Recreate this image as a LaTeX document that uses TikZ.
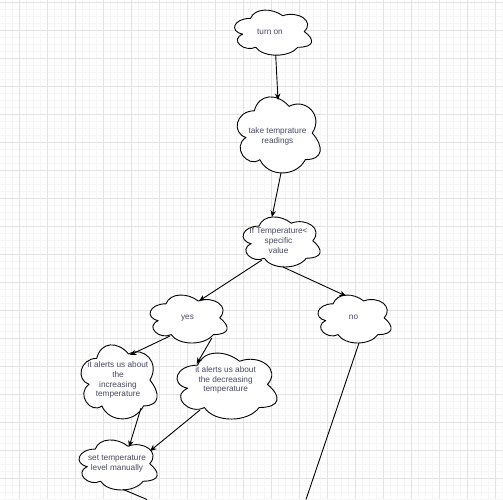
\documentclass[tikz,border=0pt]{standalone}
\usepackage{fontspec}
\setmainfont{Liberation Sans}
\usetikzlibrary{arrows.meta,shapes.geometric}
\definecolor{gridmajor}{RGB}{226,226,226}
\definecolor{gridminor}{RGB}{246,246,246}
\definecolor{txt}{RGB}{72,72,100}
\pgfdeclarelayer{bg}
\pgfdeclarelayer{mid}
\pgfsetlayers{bg,mid,main}
\tikzset{
  cloudanchor/.style={ellipse, draw=none, inner sep=0pt},
  cloudtext/.style={text=txt, font=\fontsize{8.25}{9.9}\selectfont, align=center, inner sep=0pt},
  cloudline/.style={draw=black, fill=white, line width=0.9pt, line join=round},
  arr/.style={draw=black, line width=0.9pt, -{Stealth[length=6.5pt,width=5.5pt]}},
  plainline/.style={draw=black, line width=0.9pt},
}
\newcommand\mycloud[3]{%
  \begin{scope}[x=#2pt,y=-#3pt,shift={(#1.center)}]
    \path[cloudline] (-.25,-.25)
      .. controls (-.45,-.25) and (-.5,0) .. (-.34,.05)
      .. controls (-.5,.16) and (-.32,.4) .. (-.19,.3)
      .. controls (-.1,.5) and (.2,.5) .. (.3,.3)
      .. controls (.5,.3) and (.5,.15) .. (.375,0)
      .. controls (.5,-.2) and (.3,-.4) .. (.125,-.3)
      .. controls (0,-.45) and (-.2,-.45) .. (-.25,-.25) -- cycle;
  \end{scope}}
\begin{document}
\begin{tikzpicture}[x=1pt,y=-1pt]
\useasboundingbox (0,0) rectangle (503,499);
\begin{pgfonlayer}{bg}
  \fill[white] (0,0) rectangle (503,499);
  \foreach \i in {0,...,72} {
    \draw[gridminor, line width=0.6pt] ({5+7*\i},0) -- ({5+7*\i},499);
    \draw[gridminor, line width=0.6pt] (0,{2.3+7*\i}) -- (503,{2.3+7*\i});
  }
  \foreach \i in {0,...,17} {
    \draw[gridmajor, line width=0.8pt] ({19+28*\i},0) -- ({19+28*\i},499);
    \draw[gridmajor, line width=0.8pt] (0,{2.3+28*\i}) -- (503,{2.3+28*\i});
  }
\end{pgfonlayer}

\node[cloudanchor, minimum width=77pt, minimum height=45pt,
  label={[cloudtext, xshift=-2pt]center:turn on}] (on) at (272,31.5) {};
\node[cloudanchor, minimum width=83pt, minimum height=76pt,
  label={[cloudtext, yshift=-3pt]center:take temprature\\readings}] (take) at (277.5,133) {};
\node[cloudanchor, minimum width=77pt, minimum height=50pt,
  label={[cloudtext, xshift=-2pt]center:If Temperature<\\specific\\value}] (if) at (280.5,240.7) {};
\node[cloudanchor, minimum width=77pt, minimum height=48pt,
  label={[cloudtext]center:yes}] (yes) at (187.5,317.8) {};
\node[cloudanchor, minimum width=73pt, minimum height=48pt,
  label={[cloudtext]center:no}] (no) at (353.5,317.8) {};
\node[cloudanchor, minimum width=76pt, minimum height=74pt,
  label={[cloudtext]center:it alerts us about\\the\\increasing\\temperature}] (inc) at (118,380) {};
\node[cloudanchor, minimum width=100pt, minimum height=66pt,
  label={[cloudtext, yshift=4.5pt]center:it alerts us about\\the decreasing\\temperature}] (dec) at (225.6,384.4) {};
\node[cloudanchor, minimum width=78pt, minimum height=50pt,
  label={[cloudtext]center:set temperature\\level manually}] (set) at (117,463.7) {};

\begin{pgfonlayer}{mid}
  \mycloud{on}{86}{52.6}
  \mycloud{take}{92.7}{88.8}
  \mycloud{if}{86}{58.4}
  \mycloud{yes}{86}{56}
  \mycloud{no}{81.6}{56}
  \mycloud{inc}{85}{86.4}
  \mycloud{dec}{111.7}{77}
  \mycloud{set}{87.2}{58.4}
\end{pgfonlayer}

\coordinate (setout) at (147,499.5);
\coordinate (noout) at (306,499.5);

\draw[arr] ([shift={(3.7,23.5)}]on.center) -- ([shift={(0.5,-33)}]take.center);
\draw[arr] ([shift={(3.5,40)}]take.center) -- ([shift={(-8.5,-23.7)}]if.center);
\draw[arr] ([shift={(-18.5,19.3)}]if.center) -- ([shift={(11.5,-16.8)}]yes.center);
\draw[arr] ([shift={(2.5,26.3)}]if.center) -- ([shift={(-7.5,-21.8)}]no.center);
\draw[arr] ([shift={(-17.5,18.2)}]yes.center) -- ([shift={(12,-25)}]inc.center);
\draw[arr] ([shift={(24.2,20.5)}]yes.center) -- ([shift={(-28.9,-20.4)}]dec.center);
\draw[arr] ([shift={(23,28)}]inc.center) -- ([shift={(12,-16.7)}]set.center);
\draw[arr] ([shift={(-25.6,25.6)}]dec.center) -- ([shift={(33,-12.7)}]set.center);
\draw[plainline] ([shift={(6.3,25.8)}]set.center) -- (setout);
\draw[plainline] ([shift={(5.5,25.2)}]no.center) -- (noout);
\end{tikzpicture}
\end{document}
